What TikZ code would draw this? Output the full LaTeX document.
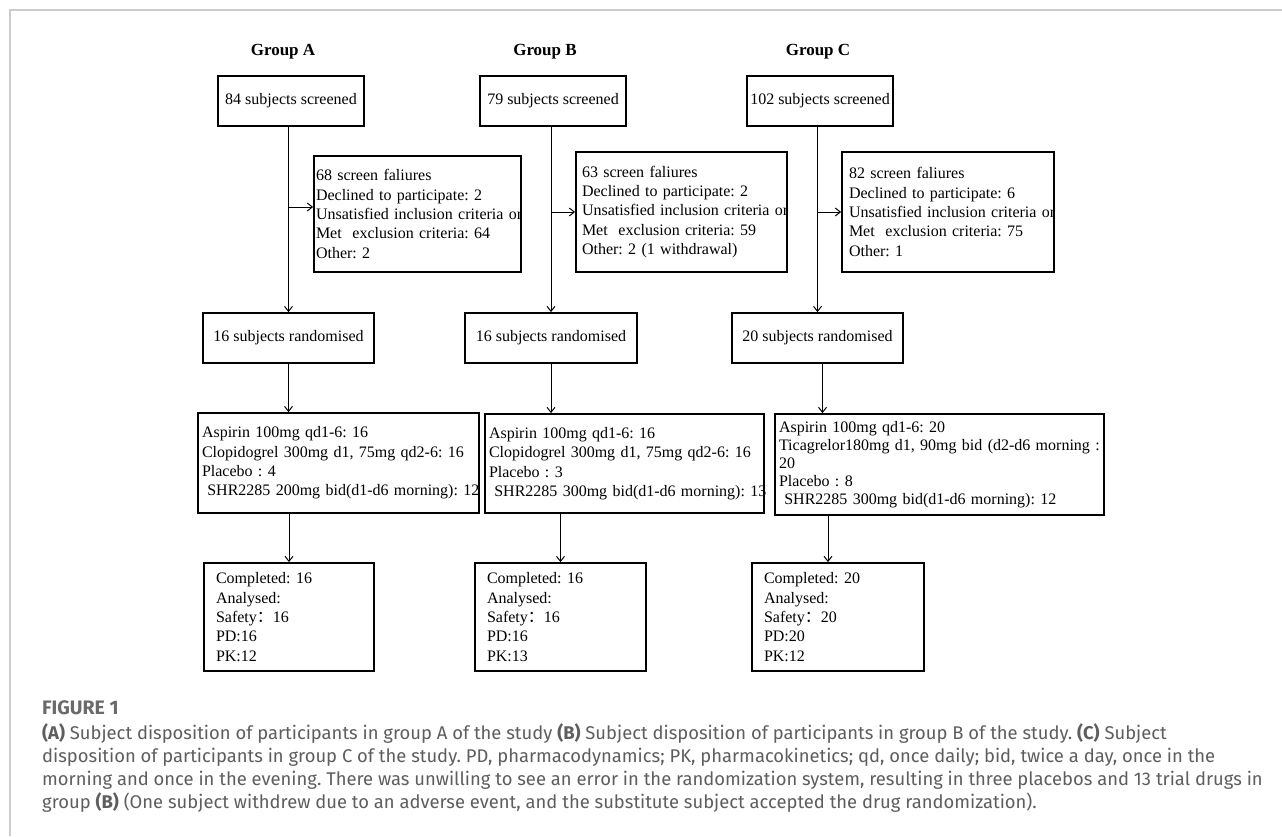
\documentclass[tikz,border=0pt]{standalone}
\usepackage{fontspec}
\setmainfont{Liberation Serif}
\newfontfamily\capfont{Fira Sans}
\newfontfamily\cjk{Noto Sans CJK SC}
\usetikzlibrary{arrows.meta}
\definecolor{capgray}{HTML}{5E5E5E}
\definecolor{figgray}{HTML}{6A6A6A}
\definecolor{framegray}{HTML}{CCCCCC}
\newcommand\myl[1]{\mbox{#1}}
\frenchspacing
\begin{document}
\begin{tikzpicture}[x=1pt,y=-1pt,
  bx/.style={draw, line width=1.8pt, inner sep=0pt, align=center,
    font=\fontsize{16}{19.4}\selectfont},
  lb/.style={draw, line width=1.8pt, inner ysep=0pt, align=left,
    font=\fontsize{16}{19.4}\selectfont},
  hd/.style={font=\fontsize{17}{20}\selectfont\bfseries},
  arr/.style={-{Straight Barb[length=5pt,width=8pt]}, line width=1pt},
  captext/.style={anchor=base west, inner sep=0pt, text=capgray,
    font=\capfont\fontsize{18.4}{22}\selectfont}]
\useasboundingbox (0,0) rectangle (1282,836);
\fill[white] (0,0) rectangle (1282,836);
\draw[framegray, line width=2pt] (9.5,836) -- (9.5,9.5) -- (1282,9.5);

% headers
\node[hd] (hA) at (283,52) {Group A};
\node[hd] (hB) at (545,52) {Group B};
\node[hd] (hC) at (818,52) {Group C};

% screened
\node[bx, minimum width=146pt, minimum height=50pt] (sA) at (291,101) {84 subjects screened};
\node[bx, minimum width=146pt, minimum height=50pt] (sB) at (553,101) {79 subjects screened};
\node[bx, minimum width=146pt, minimum height=50pt] (sC) at (820,101) {102 subjects screened};

% failures
\node[lb, text width=203pt, inner xsep=2pt, minimum height=116pt] (xA) at (417.5,214)
  {\myl{68 screen faliures}\\\myl{Declined to participate: 2}\\\myl{Unsatisfied inclusion criteria or}\\\myl{Met\ \ exclusion criteria: 64}\\\myl{Other: 2}};
\node[lb, text width=199pt, inner xsep=6pt, minimum height=120pt] (xB) at (681.5,212)
  {\myl{63 screen faliures}\\\myl{Declined to participate: 2}\\\myl{Unsatisfied inclusion criteria or}\\\myl{Met\ \ exclusion criteria: 59}\\\myl{Other: 2 (1 withdrawal)}};
\node[lb, text width=198pt, inner xsep=7pt, minimum height=120pt] (xC) at (948,212)
  {\myl{82 screen faliures}\\\myl{Declined to participate: 6}\\\myl{Unsatisfied inclusion criteria or}\\\myl{Met\ \ exclusion criteria: 75}\\\myl{Other: 1}};

% randomised
\node[bx, minimum width=171pt, minimum height=50pt] (rA) at (288.5,338) {16 subjects randomised};
\node[bx, minimum width=172pt, minimum height=50pt] (rB) at (551,338) {16 subjects randomised};
\node[bx, minimum width=171pt, minimum height=50pt] (rC) at (817.5,338) {20 subjects randomised};

% treatments
\node[lb, text width=273pt, inner xsep=4pt, minimum height=100pt] (tA) at (338.5,463)
  {\myl{Aspirin 100mg qd1-6: 16}\\\myl{Clopidogrel 300mg d1, 75mg qd2-6: 16}\\\myl{Placebo : 4}\\\myl{\ SHR2285 200mg bid(d1-d6 morning): 12}};
\node[lb, text width=271pt, inner xsep=4pt, minimum height=99pt] (tB) at (624.5,463.5)
  {\myl{Aspirin 100mg qd1-6: 16}\\\myl{Clopidogrel 300mg d1, 75mg qd2-6: 16}\\\myl{Placebo : 3}\\\myl{\ SHR2285 300mg bid(d1-d6 morning): 13}};
\node[lb, text width=321pt, inner xsep=4pt, minimum height=101pt,
  font=\fontsize{16}{18}\selectfont] (tC) at (939.5,464.5)
  {\myl{Aspirin 100mg qd1-6: 20}\\\myl{Ticagrelor180mg d1, 90mg bid (d2-d6 morning :}\\\myl{20}\\\myl{Placebo : 8}\\\myl{\ SHR2285 300mg bid(d1-d6 morning): 12}};

% final
\node[lb, text width=146pt, inner xsep=12pt, minimum height=108pt] (fA) at (289,617)
  {Completed: 16\\Analysed:\\Safety{\cjk ：}16\\PD:16\\PK:12};
\node[lb, text width=147pt, inner xsep=12pt, minimum height=108pt] (fB) at (560.5,617)
  {Completed: 16\\Analysed:\\Safety{\cjk ：}16\\PD:16\\PK:13};
\node[lb, text width=148pt, inner xsep=12pt, minimum height=108pt] (fC) at (838,617)
  {Completed: 20\\Analysed:\\Safety{\cjk ：}20\\PD:20\\PK:12};

% connectors group A
\draw[arr] (rA.north |- sA.south) -- (rA.north);
\coordinate (jA) at (288.5,207);
\draw[arr] (jA) -- (xA.west |- jA);
\draw[arr] (rA.south) -- (rA.south |- tA.north);
\draw[arr] (fA.north |- tA.south) -- (fA.north);
% group B
\draw[arr] (rB.north |- sB.south) -- (rB.north);
\coordinate (jB) at (551,212);
\draw[arr] (jB) -- (xB.west |- jB);
\draw[arr] (rB.south) -- (rB.south |- tB.north);
\draw[arr] (fB.north |- tB.south) -- (fB.north);
% group C
\draw[arr] (rC.north |- sC.south) -- (rC.north);
\coordinate (jC) at (817.5,212);
\draw[arr] (jC) -- (xC.west |- jC);
\draw[arr] ([xshift=5pt]rC.south) -- ([xshift=5pt]rC.south |- tC.north);
\draw[arr] ([xshift=-10pt]fC.north |- tC.south) -- ([xshift=-10pt]fC.north);

% caption
\node[captext, text=figgray, font=\capfont\fontsize{19.5}{22}\selectfont\bfseries] (c0) at (42,714) {FIGURE 1};
\node[captext] (c1) at (42,739) {\textbf{(A)} Subject disposition of participants in group A of the study \textbf{(B)} Subject disposition of participants in group B of the study. \textbf{(C)} Subject};
\node[captext] (c2) at (42,762) {disposition of participants in group C of the study. PD, pharmacodynamics; PK, pharmacokinetics; qd, once daily; bid, twice a day, once in the};
\node[captext] (c3) at (42,785) {morning and once in the evening. There was unwilling to see an error in the randomization system, resulting in three placebos and 13 trial drugs in};
\node[captext] (c4) at (42,808) {group \textbf{(B)} (One subject withdrew due to an adverse event, and the substitute subject accepted the drug randomization).};
\end{tikzpicture}
\end{document}
